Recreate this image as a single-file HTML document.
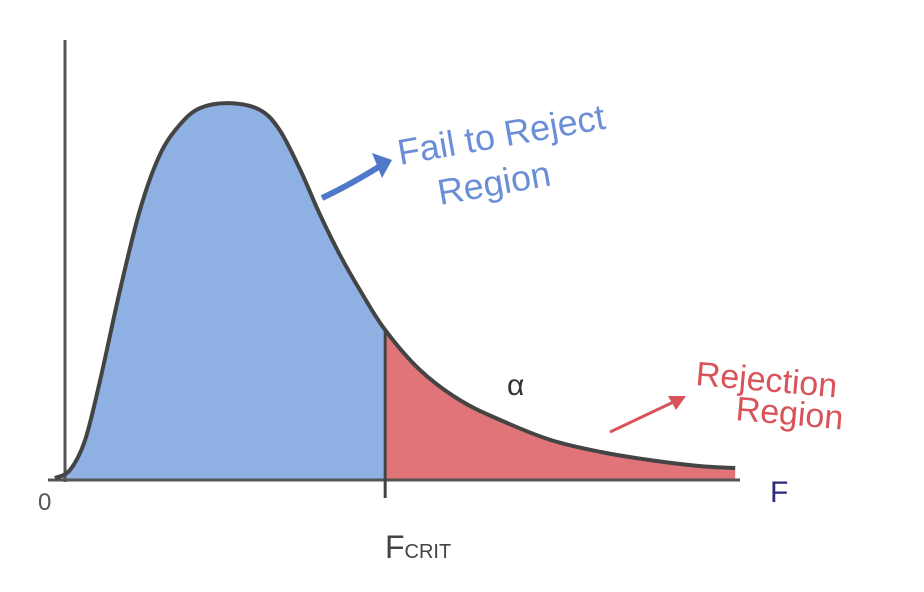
<!DOCTYPE html>
<html><head><meta charset="utf-8"><style>
html,body{margin:0;padding:0;background:#fff;}
svg{display:block;}
text{font-family:"Liberation Sans",sans-serif;}
</style></head><body>
<svg id="chart" width="924" height="592" viewBox="0 0 924 592" xmlns="http://www.w3.org/2000/svg">
<g id="fills"></g>
<g id="axes"></g>
<g id="curve"></g>
</svg>
<script>
const fValues = [0,0.22,0.44,0.66,0.95,1.24,1.53,1.82,2.12,2.55,2.99,3.28,3.58,3.87,4.16,4.45,4.82,5.33,5.91,6.5,7.23,7.96,8.69,9.42,9.93];
const density = [0.005,0.027,0.107,0.267,0.507,0.72,0.867,0.947,0.992,1.005,0.987,0.933,0.827,0.707,0.6,0.507,0.4,0.293,0.213,0.16,0.107,0.075,0.053,0.037,0.032];
const fCrit = 4.82;

const NS="http://www.w3.org/2000/svg";
const xScale = v => 55 + v*68.5;
const yScale = v => 480 - v*375;
function mk(tag, attrs, parent){const e=document.createElementNS(NS,tag);for(const k in attrs)e.setAttribute(k,attrs[k]);parent.appendChild(e);return e;}
function interp(x){for(let i=1;i<fValues.length;i++){if(x<=fValues[i]){const t=(x-fValues[i-1])/(fValues[i]-fValues[i-1]);return density[i-1]+t*(density[i]-density[i-1]);}}return density[density.length-1];}
function smooth(pts){let d="";for(let i=0;i<pts.length-1;i++){const p0=pts[Math.max(0,i-1)],p1=pts[i],p2=pts[i+1],p3=pts[Math.min(pts.length-1,i+2)];
const c1x=p1[0]+(p2[0]-p0[0])/6,c1y=p1[1]+(p2[1]-p0[1])/6,c2x=p2[0]-(p3[0]-p1[0])/6,c2y=p2[1]-(p3[1]-p1[1])/6;
d+=" C"+c1x+","+c1y+" "+c2x+","+c2y+" "+p2[0]+","+p2[1];}return d;}

const fills=document.getElementById('fills'), axes=document.getElementById('axes'), curveG=document.getElementById('curve');
const yc=interp(fCrit);
const leftPts=[],rightPts=[],allPts=[];
fValues.forEach((f,i)=>{const p=[xScale(f),yScale(density[i])];allPts.push(p);if(f<fCrit)leftPts.push(p);if(f>fCrit)rightPts.push(p);});
const cp=[xScale(fCrit),yScale(yc)];
leftPts.push(cp);rightPts.unshift(cp);
let d="M"+xScale(0)+","+yScale(0)+" L"+leftPts[0][0]+","+leftPts[0][1]+smooth(leftPts)+" L"+xScale(fCrit)+","+yScale(0)+" Z";
const blue=mk('path',{d:d,fill:'#8eb0e2'},fills);


const last=rightPts[rightPts.length-1];
d="M"+xScale(fCrit)+","+yScale(0)+" L"+cp[0]+","+cp[1]+smooth(rightPts)+" L"+last[0]+","+yScale(0)+" Z";
const red=mk('path',{d:d,fill:'#e07478'},fills);


const ya=mk('line',{x1:65,y1:40,x2:65,y2:482,stroke:'#555',"stroke-width":3},axes);


const xa=mk('line',{x1:48,y1:480,x2:740,y2:480,stroke:'#555',"stroke-width":3},axes);


const cl=mk('line',{x1:xScale(fCrit),y1:yScale(yc),x2:xScale(fCrit),y2:498,stroke:'#444',"stroke-width":3},axes);


d="M"+allPts[0][0]+","+allPts[0][1]+smooth(allPts);
const cv=mk('path',{d:d,fill:'none',stroke:'#444',"stroke-width":4,"stroke-linejoin":'round'},curveG);


</script>
<svg style="position:absolute;left:0;top:0" width="924" height="592">
<text x="400" y="165" fill="#6b8fd6" font-size="36" transform="rotate(-10 400 165)">Fail to Reject</text>
<text x="440" y="205" fill="#6b8fd6" font-size="36" transform="rotate(-10 440 205)">Region</text>
<path d="M322,198 Q350,185 385,163" stroke="#4f78c9" stroke-width="6" fill="none"/>
<path d="M372,153 L392,160 L382,178 Z" fill="#4f78c9"/>
<text x="695" y="385" fill="#d9535a" font-size="34" transform="rotate(5 695 385)">Rejection</text>
<text x="735" y="420" fill="#d9535a" font-size="34" transform="rotate(5 735 420)">Region</text>
<path d="M610,432 L682,398" stroke="#d9535a" stroke-width="3" fill="none"/>
<path d="M668,396 L686,396 L676,410 Z" fill="#d9535a"/>
<text x="507" y="395" fill="#333" font-size="30">α</text>
<text x="770" y="502" fill="#2a2a7a" font-size="30">F</text>
<text x="38" y="510" fill="#555" font-size="24">0</text>
<text x="385" y="558" fill="#444" font-size="32">F<tspan font-size="20">CRIT</tspan></text>
</svg>
</body></html>
